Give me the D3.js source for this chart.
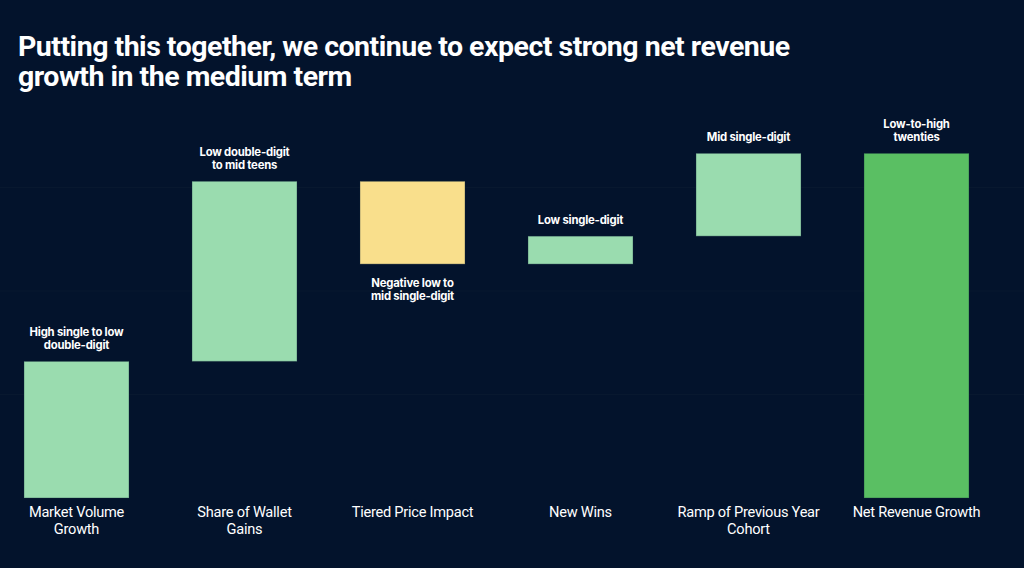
<!DOCTYPE html>
<html>
<head>
<meta charset="utf-8">
<script src="https://cdn.jsdelivr.net/npm/d3@7"></script>
<style>
  html, body { margin: 0; padding: 0; background: #03132c; }
  svg { display: block; }
</style>
</head>
<body>
<svg id="chart" width="1024" height="568"></svg>
<script>
// ---- data ----
const titleLines = ["Putting this together, we continue to expect strong net revenue", "growth in the medium term"];
const categories = [
  ["Market Volume", "Growth"],
  ["Share of Wallet", "Gains"],
  ["Tiered Price Impact"],
  ["New Wins"],
  ["Ramp of Previous Year", "Cohort"],
  ["Net Revenue Growth"]
];
const changes = [13.2, 17.4, -8.0, 2.7, 8.0];   // step contributions
const totalValue = 33.3;                          // final total bar
const annotations = [
  ["High single to low", "double-digit"],
  ["Low double-digit", "to mid teens"],
  ["Negative low to", "mid single-digit"],
  ["Low single-digit"],
  ["Mid single-digit"],
  ["Low-to-high", "twenties"]
];
const gridTicks = [10, 20, 30];

// ---- build waterfall rows ----
let run = 0;
const rows = changes.map((v, i) => {
  const start = run; run += v;
  return { i, start, end: run, value: v, type: v < 0 ? "neg" : "pos" };
});
rows.push({ i: 5, start: 0, end: totalValue, value: totalValue, type: "total" });

const colors = { pos: "#9adcaf", neg: "#f9df8c", total: "#5abf63" };

const svg = d3.select("#chart");
const x = d3.scaleBand().domain(d3.range(categories.length)).range([24, 969]).paddingInner(0.375).paddingOuter(0);
const y = d3.scaleLinear().domain([0, 40]).range([498, 84]);

// gridlines
svg.append("g").selectAll("line").data(gridTicks).join("line")
  .attr("x1", 0).attr("x2", 1024)
  .attr("y1", d => y(d)).attr("y2", d => y(d))
  .attr("stroke", "#08182f").attr("stroke-width", 1);

// title
svg.append("g").selectAll("text").data(titleLines).join("text")
  .attr("x", 18).attr("y", (d, i) => 56 + i * 30)
  .attr("fill", "#ffffff")
  .attr("font-family", "Roboto, sans-serif")
  .attr("font-weight", 700)
  .attr("font-size", 28.5)
  .attr("letter-spacing", -0.5)
  .text(d => d);

// bars
svg.append("g").selectAll("rect").data(rows).join("rect")
  .attr("x", d => x(d.i))
  .attr("width", x.bandwidth())
  .attr("y", d => y(Math.max(d.start, d.end)))
  .attr("height", d => Math.abs(y(d.start) - y(d.end)))
  .attr("fill", d => colors[d.type])
  .attr("stroke", "rgba(20,40,60,0.35)")
  .attr("stroke-width", 1);

// annotations
const ann = svg.append("g").selectAll("text").data(rows).join("text")
  .attr("text-anchor", "middle")
  .attr("fill", "#ffffff")
  .attr("font-family", "Inter, sans-serif")
  .attr("font-weight", 700)
  .attr("font-size", 11.3)
  .attr("letter-spacing", -0.2);
ann.each(function(d) {
  const lines = annotations[d.i];
  const cx = x(d.i) + x.bandwidth() / 2;
  let firstY;
  if (d.type === "neg") {
    firstY = y(d.end) + 23;
  } else {
    firstY = y(d.end) - 12 - (lines.length - 1) * 13;
  }
  d3.select(this).selectAll("tspan").data(lines).join("tspan")
    .attr("x", cx).attr("y", (l, j) => firstY + j * 13).text(l => l);
});

// category labels
const cat = svg.append("g").selectAll("text").data(categories).join("text")
  .attr("text-anchor", "middle")
  .attr("fill", "#ffffff")
  .attr("font-family", "Roboto, sans-serif")
  .attr("font-size", 14.6)
  .attr("letter-spacing", -0.25);
cat.each(function(lines, i) {
  const cx = x(i) + x.bandwidth() / 2;
  d3.select(this).selectAll("tspan").data(lines).join("tspan")
    .attr("x", cx).attr("y", (l, j) => 517 + j * 17).text(l => l);
});
</script>
</body>
</html>
